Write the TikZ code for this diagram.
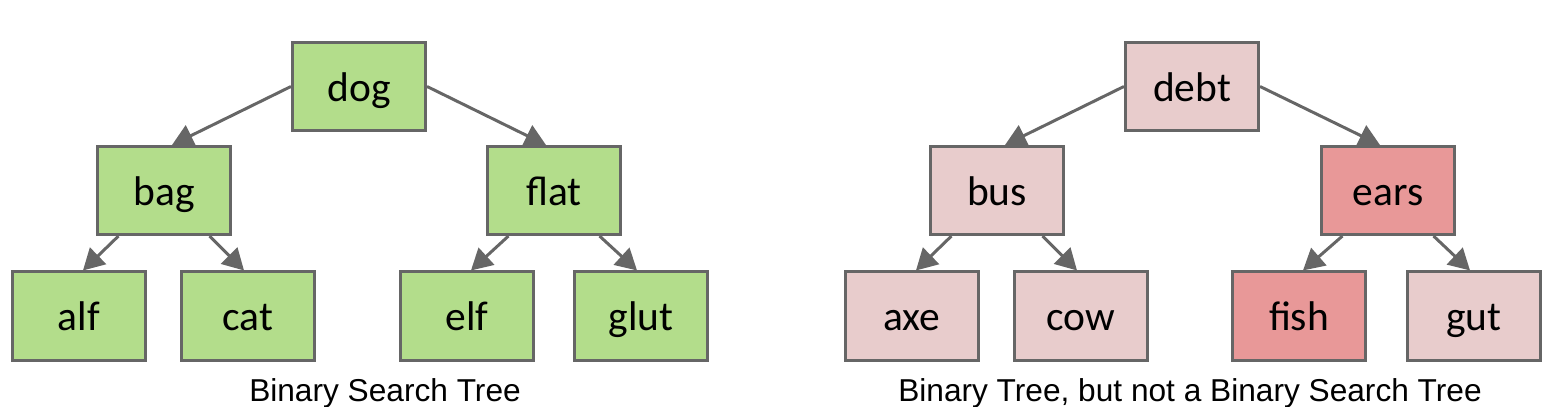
\documentclass[tikz,border=0pt]{standalone}
\usepackage{fontspec}
\setmainfont{Liberation Sans}
\newfontfamily\nodefont{Carlito}
\usepackage{xcolor}
\usetikzlibrary{arrows.meta,positioning}
\definecolor{okgreen}{HTML}{B3DD8B}
\definecolor{palered}{HTML}{E8CCCC}
\definecolor{badred}{HTML}{E89898}
\definecolor{edgegray}{HTML}{666666}

\begin{document}
\begin{tikzpicture}[x=0.01cm, y=0.01cm,
    key/.style={draw=edgegray, line width=0.85pt, minimum width=1.33cm, minimum height=0.88cm, inner sep=0pt, text height=0.35cm, text depth=0.05cm, font=\nodefont\fontsize{11.8}{14}\selectfont},
    bst/.style={key, fill=okgreen},
    ok/.style={key, fill=palered},
    bad/.style={key, fill=badred},
    link/.style={-{Triangle[length=6pt, width=6.5pt]}, draw=edgegray, line width=0.85pt},
    caption/.style={font=\fontsize{9}{11}\selectfont}
]
\useasboundingbox (0,0) rectangle (1550,407);
% left tree
\node[bst] (dog)  at (359,320.5) {dog};
\node[bst] (bag)  at (164,216.5) {bag};
\node[bst] (flat) at (554,216.5) {flat};
\node[bst] (alf)  at (79,91)  {alf};
\node[bst] (cat)  at (248,91) {cat};
\node[bst] (elf)  at (467,91) {elf};
\node[bst] (glut) at (641,91) {glut};
\draw[link] (dog.west) -- (bag.80);
\draw[link] (dog.east) -- (flat.100);
\draw[link] (bag.225) -- (alf.85);
\draw[link] (bag.-45) -- (cat.95);
\draw[link] (flat.225) -- (elf.85);
\draw[link] (flat.-45) -- (glut.95);
\node[caption] (bstcap) at (385,14) {Binary Search Tree};
% right tree
\node[ok]  (debt) at (1192,320.5) {debt};
\node[ok]  (bus)  at (997,216.5) {bus};
\node[bad] (ears) at (1388,216.5) {ears};
\node[ok]  (axe)  at (912,91)  {axe};
\node[ok]  (cow)  at (1081,91) {cow};
\node[bad] (fish) at (1299,91) {fish};
\node[ok]  (gut)  at (1474,91) {gut};
\draw[link] (debt.west) -- (bus.80);
\draw[link] (debt.east) -- (ears.100);
\draw[link] (bus.225) -- (axe.85);
\draw[link] (bus.-45) -- (cow.95);
\draw[link] (ears.225) -- (fish.85);
\draw[link] (ears.-45) -- (gut.95);
\node[caption] (btcap) at (1190,14) {Binary Tree, but not a Binary Search Tree};
\end{tikzpicture}
\end{document}
